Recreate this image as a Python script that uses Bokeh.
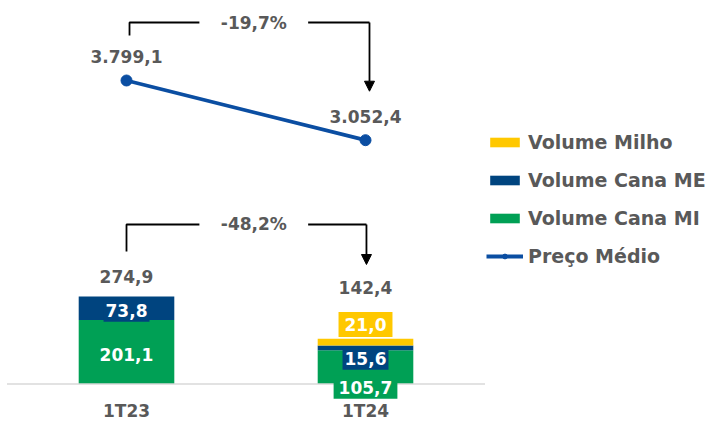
from bokeh.plotting import figure
from bokeh.models import Range1d, Legend, LegendItem, Arrow, NormalHead, ColumnDataSource
from bokeh.core.properties import value
from bokeh.embed import file_html
from bokeh.resources import INLINE

# Quarterly volumes (thousand m3) and average price (R$/m3)
periods = ["1T23", "1T24"]
volume_cana_mi = [201.1, 105.7]
volume_cana_me = [73.8, 15.6]
volume_milho = [0.0, 21.0]
volume_total = [274.9, 142.4]
preco_medio = [3799.1, 3052.4]

FONT_NAME = "DejaVu Sans"
FONT = value(FONT_NAME)
GRAY = "#595959"
C_MI = "#00A055"
C_ME = "#00447F"
C_MILHO = "#FFC800"
C_LINE = "#0B4EA2"


def br(v, d=1):
    s = f"{v:,.{d}f}"
    return s.replace(",", "X").replace(".", ",").replace("X", ".")


xs = list(range(len(periods)))

p = figure(width=716, height=423, x_axis_type=None, y_axis_type=None,
           output_backend="svg", toolbar_location=None, min_border=0,
           outline_line_color=None, background_fill_color="white",
           x_range=Range1d(-0.5272, 2.4686), y_range=Range1d(-124.1, 1204.8))
p.xgrid.visible = False
p.ygrid.visible = False
p.extra_y_ranges = {"price": Range1d(-491.1, 4799.7)}

# stacked volume bars
src = ColumnDataSource(dict(x=xs, mi=volume_cana_mi, me=volume_cana_me, milho=volume_milho))
bars = p.vbar_stack(["mi", "me", "milho"], x="x", width=0.4, source=src,
                    fill_color=[C_MI, C_ME, C_MILHO], line_color=None)

# baseline
p.segment(x0=[-0.5], y0=[0], x1=[1.5], y1=[0], line_color="#D9D9D9", line_width=1.5)

# average price line
line_r = p.line(xs, preco_medio, y_range_name="price", line_color=C_LINE, line_width=3.8)
dot_r = p.scatter(xs, preco_medio, y_range_name="price", size=11, fill_color=C_LINE,
                  line_color=C_LINE)

txt = dict(text_font=FONT, text_font_style="bold", text_font_size="17px",
           text_align="center", text_baseline="middle")

# segment labels, boxed in the segment colour
series = [(volume_cana_mi, C_MI, [3, 20], (5, 5)),
          (volume_cana_me, C_ME, [2, 10.5], (2, 5)),
          (volume_milho, C_MILHO, [0, -17.5], (6, 6))]
base = [0.0] * len(xs)
for vals, col, dys, pad in series:
    lx, ly, lt, ld = [], [], [], []
    for i, v in enumerate(vals):
        if v > 0:
            lx.append(xs[i])
            ly.append(base[i] + v / 2)
            lt.append(br(v))
            ld.append(dys[i])
        base[i] += v
    p.text(x=lx, y=ly, text=lt, y_offset=ld, text_color="white",
           background_fill_color=col, padding=pad, **txt)

# totals above the bars
p.text(x=xs, y=volume_total, text=[br(v) for v in volume_total], y_offset=[-20, -51],
       text_color=GRAY, **txt)

# price labels
p.text(x=xs, y=preco_medio, text=[br(v) for v in preco_medio], y_offset=[-24, -24],
       y_range_name="price", text_color=GRAY, **txt)

# category labels
p.text(x=xs, y=[0, 0], text=periods, y_offset=[27, 27], text_color=GRAY, **txt)

# change brackets with arrows
var_vol = (volume_total[1] / volume_total[0] - 1) * 100
var_preco = (preco_medio[1] / preco_medio[0] - 1) * 100


def bracket(x_left, x_right, y_top, y_low, y_tip, label, range_name):
    kw = {} if range_name is None else {"y_range_name": range_name}
    gap_l, gap_r = 0.5 - 0.195, 0.5 + 0.26
    p.line([x_left, x_left, gap_l], [y_low, y_top, y_top], line_color="black",
           line_width=1.8, **kw)
    p.line([gap_r, x_right], [y_top, y_top], line_color="black", line_width=1.8, **kw)
    arrow = Arrow(x_start=x_right, y_start=y_top, x_end=x_right, y_end=y_tip,
                  line_color="black", line_width=1.8,
                  end=NormalHead(size=10, fill_color="black", line_color="black"))
    if range_name is not None:
        arrow.y_range_name = range_name
    p.add_layout(arrow)
    p.text(x=[0.533], y=[y_top], text=[label], text_color=GRAY, **kw, **txt)


bracket(0.0126, 1.0167, 4524.5, 4361.9, 3665.2, br(var_preco) + "%", "price")
bracket(0.0, 1.004, 501.1, 416.3, 375.4, br(var_vol) + "%", None)

legend = Legend(items=[
    LegendItem(label="Volume Milho", renderers=[bars[2]]),
    LegendItem(label="Volume Cana ME", renderers=[bars[1]]),
    LegendItem(label="Volume Cana MI", renderers=[bars[0]]),
    LegendItem(label="Preço Médio", renderers=[line_r, dot_r]),
], location=(486, 156), glyph_width=37, glyph_height=12, label_height=12,
    spacing=16, label_standoff=5, padding=0, margin=0, border_line_color=None,
    background_fill_alpha=0, label_text_font=FONT_NAME, label_text_font_style="bold",
    label_text_font_size="19px", label_text_color=GRAY)
p.add_layout(legend)

open("out.html", "w").write(file_html(p, INLINE))
